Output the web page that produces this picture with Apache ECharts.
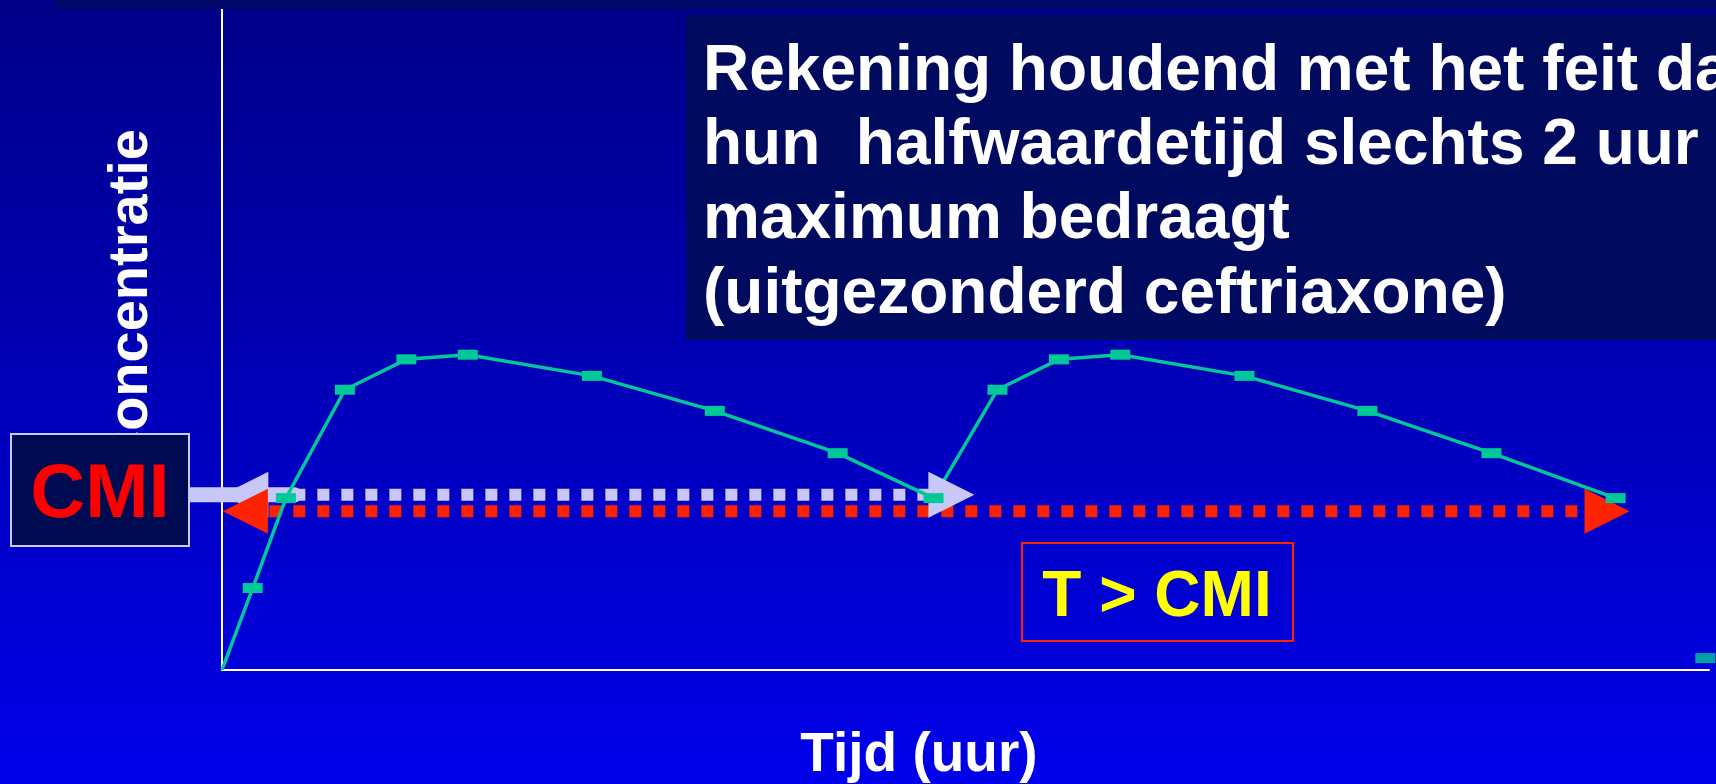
<!DOCTYPE html>
<html>
<head>
<meta charset="utf-8">
<script src="https://cdn.jsdelivr.net/npm/echarts@6/dist/echarts.min.js"></script>
<style>
  html, body { margin: 0; padding: 0; background: #0000c0; }
  #chart { width: 1716px; height: 784px; }
</style>
</head>
<body>
<div id="chart"></div>
<script>
// time (hours) and concentration
const times = [0, 0.25, 0.52, 1, 1.5, 2, 3.01, 4.01, 5.01, 5.79, 6.31, 6.81, 7.31, 8.32, 9.32, 10.33, 11.34];
const concentration = [0, 12.4, 26.0, 42.4, 47.0, 47.7, 44.5, 39.2, 32.8, 26.0, 42.4, 47.0, 47.7, 44.5, 39.2, 32.8, 26.0];
// lone marker at the right edge
const loneTime = [12.07];
const loneConc = [1.8];

// CMI arrows (time range and level)
const cmiBarEndX = 0.59;
const cmiUpperX = [0.19, 5.935];
const cmiUpperY = 26.5;
const cmiLowerX = [0.19, 11.27];
const cmiLowerY = 24.0;

const titleLines = [
    'Rekening houdend met het feit dat',
    'hun  halfwaardetijd slechts 2 uur',
    'maximum bedraagt',
    '(uitgezonderd ceftriaxone)'
];

const xMax = 12.1;
const yMax = 100;

const green = '#00c896';
const lavender = '#c8c8f8';
const red = '#ff2200';
const leftHead = 'path://M10,0L0,5L10,10Z';
const rightHead = 'path://M0,0L10,5L0,10Z';
const FONT = '"Liberation Sans", Arial, sans-serif';

const curveData = times.map(function(t, i) {
    const item = { value: [t, concentration[i]] };
    if (i === 0) item.symbol = 'none';
    return item;
});

const chart = echarts.init(document.getElementById('chart'));

const titleEls = titleLines.map(function(line, i) {
    return {
        type: 'text',
        z: 101,
        x: 703,
        y: 72 + i * 74.3,
        style: {
            text: line,
            fill: '#ffffff',
            font: 'bold 64px ' + FONT,
            textAlign: 'left',
            textVerticalAlign: 'middle'
        }
    };
});

const option = {
    animation: false,
    backgroundColor: new echarts.graphic.LinearGradient(0, 0, 0, 1, [
        { offset: 0, color: '#000088' },
        { offset: 1, color: '#0000ea' }
    ]),
    grid: { left: 222, right: 7, top: 9, bottom: 114 },
    xAxis: {
        type: 'value',
        min: 0,
        max: xMax,
        axisLine: { show: true, lineStyle: { color: '#ffffff', width: 2 } },
        axisTick: { show: false },
        axisLabel: { show: false },
        splitLine: { show: false }
    },
    yAxis: {
        type: 'value',
        min: 0,
        max: yMax,
        axisLine: { show: true, lineStyle: { color: '#ffffff', width: 2 } },
        axisTick: { show: false },
        axisLabel: { show: false },
        splitLine: { show: false }
    },
    series: [
        {
            type: 'line',
            clip: false,
            silent: true,
            symbolSize: [46, 46],
            itemStyle: { color: lavender },
            data: [
                { value: [cmiUpperX[0], cmiUpperY], symbol: leftHead },
                { value: [cmiUpperX[1], cmiUpperY], symbol: rightHead }
            ],
            lineStyle: { color: lavender, width: 12, type: [12, 12], cap: 'butt' }
        },
        {
            type: 'line',
            clip: false,
            silent: true,
            symbolSize: [45, 45],
            itemStyle: { color: red },
            data: [
                { value: [cmiLowerX[0], cmiLowerY], symbol: leftHead },
                { value: [cmiLowerX[1], cmiLowerY], symbol: rightHead }
            ],
            lineStyle: { color: red, width: 12, type: [12, 12], cap: 'butt' }
        },
        {
            type: 'line',
            silent: true,
            symbol: 'rect',
            symbolSize: [20, 10],
            itemStyle: { color: green },
            lineStyle: { color: green, width: 3.5 },
            data: curveData
        },
        {
            type: 'scatter',
            silent: true,
            symbol: 'rect',
            symbolSize: [20, 10],
            itemStyle: { color: green },
            data: loneTime.map(function(t, i) { return [t, loneConc[i]]; })
        }
    ],
    graphic: {
        elements: [
            {
                type: 'rect',
                z: 50,
                shape: { x: 55, y: 0, width: 1661, height: 9 },
                style: { fill: '#000a66' }
            },
            {
                type: 'rect',
                z: 100,
                shape: { x: 686, y: 15, width: 1030, height: 325 },
                style: { fill: '#000a5e' }
            }
        ].concat(titleEls).concat([
            {
                type: 'text',
                z: 100,
                x: 132,
                y: 129,
                rotation: Math.PI / 2,
                style: {
                    text: 'Concentratie',
                    fill: '#ffffff',
                    font: 'bold 56px ' + FONT,
                    textAlign: 'right',
                    textVerticalAlign: 'middle'
                }
            },
            {
                type: 'rect',
                z: 102,
                shape: { x: 11, y: 434, width: 178, height: 112 },
                style: { fill: '#000a50', stroke: '#c8c8f0', lineWidth: 2 }
            },
            {
                type: 'text',
                z: 103,
                x: 100,
                y: 496,
                style: {
                    text: 'CMI',
                    fill: '#ff0000',
                    font: 'bold 76px ' + FONT,
                    textAlign: 'center',
                    textVerticalAlign: 'middle'
                }
            },
            {
                type: 'rect',
                z: 100,
                shape: { x: 1022, y: 543, width: 271, height: 98 },
                style: { fill: 'transparent', stroke: red, lineWidth: 2 }
            },
            {
                type: 'text',
                z: 101,
                x: 1157,
                y: 598,
                style: {
                    text: 'T > CMI',
                    fill: '#ffff00',
                    font: 'bold 64px ' + FONT,
                    textAlign: 'center',
                    textVerticalAlign: 'middle'
                }
            },
            {
                type: 'text',
                z: 100,
                x: 919,
                y: 756,
                style: {
                    text: 'Tijd (uur)',
                    fill: '#ffffff',
                    font: 'bold 55px ' + FONT,
                    textAlign: 'center',
                    textVerticalAlign: 'middle'
                }
            }
        ])
    }
};

chart.setOption(option);

// thick connector from the CMI box into the plot, placed on the axis scale
const barEnd = chart.convertToPixel({ gridIndex: 0 }, [cmiBarEndX, cmiUpperY]);
chart.setOption({
    graphic: {
        elements: [{
            id: 'cmiBar',
            type: 'line',
            z: 1,
            shape: { x1: 185, y1: barEnd[1], x2: barEnd[0], y2: barEnd[1] },
            style: { stroke: lavender, lineWidth: 15, lineCap: 'round' }
        }]
    }
});
</script>
</body>
</html>
